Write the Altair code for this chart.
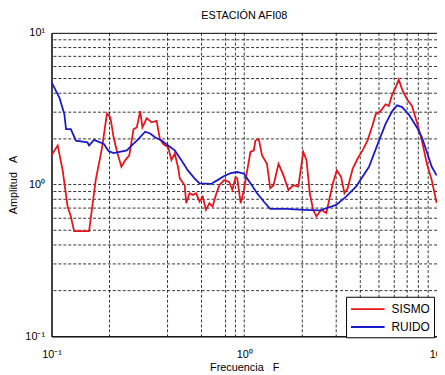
import altair as alt
import pandas as pd

# RUIDO (blue) curve
ruido_f = [0.1, 0.110, 0.1166, 0.119, 0.126, 0.1339, 0.1535, 0.1567, 0.1662, 0.187,
           0.198, 0.210, 0.246, 0.261, 0.283, 0.306, 0.325, 0.344, 0.372, 0.403,
           0.436, 0.471, 0.510, 0.552, 0.586, 0.672, 0.727, 0.787, 0.851, 0.920,
           0.997, 1.077, 1.166, 1.262, 1.364, 1.662, 2.024, 2.462, 2.999, 3.375,
           3.80, 4.44, 5.00, 5.41, 5.86, 6.21, 6.59, 7.13, 7.87, 8.35,
           8.86, 9.39, 9.96]
ruido_a = [4.74, 3.73, 2.91, 2.32, 2.32, 1.95, 1.90, 1.81, 1.97, 1.85,
           1.66, 1.61, 1.68, 1.81, 2.00, 2.23, 2.17, 2.05, 1.95, 1.81,
           1.68, 1.45, 1.24, 1.10, 1.02, 1.01, 1.07, 1.14, 1.19, 1.21,
           1.18, 1.02, 0.877, 0.773, 0.692, 0.692, 0.682, 0.675, 0.735, 0.833,
           0.968, 1.31, 1.95, 2.51, 3.05, 3.33, 3.24, 2.91, 2.38, 2.05,
           1.64, 1.31, 1.15]

# SISMO (red) curve
sismo_f = [0.1, 0.1077, 0.1143, 0.1212, 0.126, 0.131, 0.1567, 0.1696, 0.183, 0.194,
           0.202, 0.210, 0.219, 0.2305, 0.2416, 0.2533, 0.2665, 0.277, 0.2884, 0.2964,
           0.312, 0.331, 0.351, 0.365, 0.380, 0.403, 0.419, 0.436, 0.453, 0.463,
           0.491, 0.500, 0.520, 0.541, 0.563, 0.586, 0.609, 0.633, 0.659, 0.685,
           0.713, 0.742, 0.787, 0.835, 0.868, 0.902, 0.920, 0.958, 0.997, 1.036,
           1.077, 1.121, 1.143, 1.189, 1.236, 1.312, 1.364, 1.419, 1.506, 1.598,
           1.695, 1.799, 1.908, 2.024, 2.104, 2.188, 2.276, 2.367, 2.512, 2.665,
           2.884, 3.024, 3.18, 3.31, 3.44, 3.65, 3.87, 4.11, 4.36, 4.62,
           4.81, 5.10, 5.41, 5.62, 5.86, 6.09, 6.33, 6.59, 7.00, 7.42,
           7.87, 8.35, 8.86, 9.39, 9.96]
sismo_a = [1.56, 1.81, 1.24, 0.717, 0.617, 0.493, 0.493, 1.07, 1.76, 2.94,
           2.77, 2.05, 1.64, 1.31, 1.45, 1.56, 2.32, 2.38, 3.05, 2.38,
           2.74, 2.57, 2.63, 2.00, 1.85, 1.76, 1.45, 1.60, 1.31, 1.10,
           0.99, 0.754, 0.876, 0.855, 0.876, 0.773, 0.833, 0.682, 0.754, 0.717,
           0.855, 0.99, 1.07, 1.04, 0.921, 1.12, 1.10, 0.754, 0.921, 1.24,
           1.64, 1.68, 1.95, 2.00, 1.56, 1.37, 0.945, 0.99, 1.37, 1.15,
           0.921, 0.99, 0.968, 1.64, 1.45, 0.876, 0.682, 0.617, 0.682, 0.649,
           1.02, 1.24, 1.12, 0.876, 0.945, 1.27, 1.48, 1.68, 1.95, 2.44,
           2.91, 3.05, 3.38, 3.30, 3.93, 4.34, 4.92, 4.24, 3.64, 3.30,
           2.57, 1.95, 1.37, 1.07, 0.754]

series_names = ["SISMO", "RUIDO"]
series_colors = ["#e3161c", "#1a1ac8"]

grid_x = [0.2, 0.4, 0.6, 0.8, 0.9, 1, 2, 3, 4, 5, 6, 7, 8, 9]
grid_y = [0.2, 0.3, 0.4, 0.5, 0.6, 0.7, 0.8, 0.9, 1, 2, 3, 4, 5, 6, 7, 8, 9]
decades = [0.1, 1, 10]

FONT = "Liberation Sans"
NB = "\u00a0"

df = pd.concat([
    pd.DataFrame({"f": sismo_f, "a": sismo_a, "serie": "SISMO"}),
    pd.DataFrame({"f": ruido_f, "a": ruido_a, "serie": "RUIDO"}),
], ignore_index=True)

xs = alt.Scale(type="log", domain=[0.1, 10], nice=False)
ys = alt.Scale(type="log", domain=[0.1, 10], nice=False)

label_expr = "datum.value < 0.5 ? '10⁻¹' : (datum.value < 5 ? '10⁰' : '10¹')"

x_axis = alt.Axis(
    values=decades, labelExpr=label_expr, title="Frecuencia" + NB * 3 + "F",
    grid=False, ticks=False, labelFlush=False, labelOverlap=False,
    labelPadding=12, titlePadding=3, labelFont=FONT, titleFont=FONT,
    labelFontSize=11, titleFontSize=11, titleFontWeight="normal",
    labelColor="black", titleColor="black", domainColor="black")
y_axis = alt.Axis(
    values=decades, labelExpr=label_expr, title="Amplitud" + NB * 3 + "A",
    grid=False, ticks=False, labelFlush=False, labelOverlap=False,
    labelPadding=7, titlePadding=6, labelFont=FONT, titleFont=FONT,
    labelFontSize=11, titleFontSize=11, titleFontWeight="normal",
    labelColor="black", titleColor="black", domainColor="black")

vgrid = alt.Chart(pd.DataFrame({"gx": grid_x})).mark_rule(
    color="black", strokeWidth=0.8, strokeDash=[3, 2]
).encode(x=alt.X("gx:Q", scale=xs, axis=x_axis))

hgrid = alt.Chart(pd.DataFrame({"gy": grid_y})).mark_rule(
    color="black", strokeWidth=0.8, strokeDash=[3, 2]
).encode(y=alt.Y("gy:Q", scale=ys, axis=y_axis))

lines = alt.Chart(df).mark_line(strokeWidth=1.8, clip=True).encode(
    x=alt.X("f:Q", scale=xs, axis=x_axis),
    y=alt.Y("a:Q", scale=ys, axis=y_axis),
    color=alt.Color("serie:N", scale=alt.Scale(domain=series_names, range=series_colors),
                    legend=alt.Legend(orient="none", legendX=298, legendY=267, title=None,
                                      strokeColor="black", fillColor="white", padding=4,
                                      symbolType="M-1,0H3.533", symbolSize=225, symbolStrokeWidth=2,
                                      labelOffset=25,
                                      labelFont=FONT, labelFontSize=12, labelColor="black",
                                      rowPadding=3, cornerRadius=0)),
    order=alt.Order("f:Q"),
)

chart = alt.layer(vgrid, hgrid, lines).properties(
    width=390, height=307,
    title=alt.TitleParams("ESTACIÓN AFI08", font=FONT, fontSize=11, fontWeight="normal",
                          color="black", anchor="middle", offset=6),
    autosize=alt.AutoSizeParams(type="none"),
    padding={"left": 44, "top": 23, "right": 0, "bottom": 36},
).configure_view(stroke="black", strokeWidth=1)

chart.save("out.html", embed_options={"renderer": "svg", "actions": False})
